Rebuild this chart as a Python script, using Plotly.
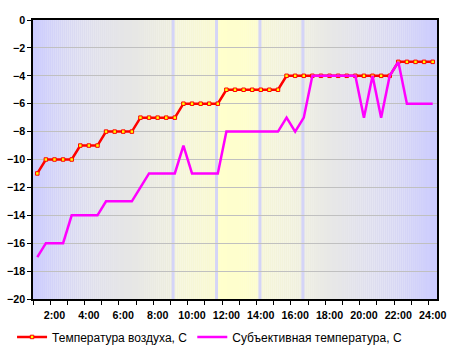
import plotly.graph_objects as go

# ---- data ----
times = ["1:00", "1:30", "2:00", "2:30", "3:00", "3:30", "4:00", "4:30",
         "5:00", "5:30", "6:00", "6:30", "7:00", "7:30", "8:00", "8:30",
         "9:00", "9:30", "10:00", "10:30", "11:00", "11:30", "12:00", "12:30",
         "13:00", "13:30", "14:00", "14:30", "15:00", "15:30", "16:00", "16:30",
         "17:00", "17:30", "18:00", "18:30", "19:00", "19:30", "20:00", "20:30",
         "21:00", "21:30", "22:00", "22:30", "23:00", "23:30", "24:00"]

air_temp = [-11, -10, -10, -10, -10, -9, -9, -9,
            -8, -8, -8, -8, -7, -7, -7, -7,
            -7, -6, -6, -6, -6, -6, -5, -5,
            -5, -5, -5, -5, -5, -4, -4, -4,
            -4, -4, -4, -4, -4, -4, -4, -4,
            -4, -4, -3, -3, -3, -3, -3]

felt_temp = [-17, -16, -16, -16, -14, -14, -14, -14,
             -13, -13, -13, -13, -12, -11, -11, -11,
             -11, -9, -11, -11, -11, -11, -8, -8,
             -8, -8, -8, -8, -8, -7, -8, -7,
             -4, -4, -4, -4, -4, -4, -7, -4,
             -7, -4, -3, -6, -6, -6, -6]

y_ticks = [0, -2, -4, -6, -8, -10, -12, -14, -16, -18, -20]

name_air = "Температура воздуха, С"
name_felt = "Субъективная температура, С"

# decorative background (positions in category-index units)
sun_rays_idx = [15.8, 20.85, 25.9, 30.9]
bg_stops = [
    (0.0, (204, 204, 255)),
    (0.08, (216, 216, 244)),
    (0.17, (226, 226, 234)),
    (0.30, (234, 234, 226)),
    (0.346, (238, 238, 222)),
    (0.35, (244, 244, 218)),
    (0.45, (249, 249, 210)),
    (0.455, (255, 255, 204)),
    (0.555, (253, 253, 206)),
    (0.56, (246, 246, 216)),
    (0.66, (240, 240, 222)),
    (0.665, (238, 238, 226)),
    (0.76, (230, 230, 232)),
    (0.88, (218, 218, 242)),
    (1.0, (204, 204, 255)),
]

x = list(range(len(times)))
x_lo, x_hi = -0.5, len(times) - 0.5

label_idx = [i for i, t in enumerate(times)
             if t.endswith(":00") and int(t.split(":")[0]) % 2 == 0]
label_txt = [times[i] for i in label_idx]


def bg_color(f):
    for (f0, c0), (f1, c1) in zip(bg_stops[:-1], bg_stops[1:]):
        if f0 <= f <= f1:
            t = 0 if f1 == f0 else (f - f0) / (f1 - f0)
            c = [round(a + (b - a) * t) for a, b in zip(c0, c1)]
            return "rgb(%d,%d,%d)" % tuple(c)
    return "rgb(%d,%d,%d)" % bg_stops[-1][1]


shapes = []
N = 200
w = (x_hi - x_lo) / N
for k in range(N):
    f = (k + 0.5) / N
    shapes.append(dict(type="rect", xref="x", yref="paper",
                       x0=x_lo + k * w, x1=x_lo + (k + 1) * w + w * 0.05,
                       y0=0, y1=1, fillcolor=bg_color(f),
                       line=dict(width=0), layer="below"))
for xr in sun_rays_idx:
    shapes.append(dict(type="line", xref="x", yref="paper", x0=xr, x1=xr,
                       y0=0, y1=1, line=dict(color="rgba(208,208,250,0.9)", width=3),
                       layer="below"))

fig = go.Figure()
fig.add_trace(go.Scatter(
    x=x, y=air_temp, name=name_air, mode="lines+markers",
    line=dict(color="#ff0000", width=2.5),
    marker=dict(symbol="square", size=3.5, color="#ffff00",
                line=dict(color="#ff0000", width=1)),
))
fig.add_trace(go.Scatter(
    x=x, y=felt_temp, name=name_felt, mode="lines",
    line=dict(color="#ff00ff", width=2.5),
))

font_family = "Liberation Sans, Arial, sans-serif"

fig.update_layout(
    width=449, height=354,
    margin=dict(l=33, r=12, t=20, b=55, autoexpand=False),
    paper_bgcolor="white", plot_bgcolor="white",
    shapes=shapes,
    font=dict(family=font_family, color="black"),
    showlegend=True,
    legend=dict(orientation="h", x=0.437, xanchor="center", y=-0.136,
                yanchor="middle", font=dict(size=12, family=font_family),
                bgcolor="rgba(0,0,0,0)", itemwidth=30),
    xaxis=dict(
        range=[x_lo, x_hi], showgrid=False, zeroline=False, automargin=False,
        tickmode="array", tickvals=label_idx, ticktext=label_txt,
        ticks="outside", ticklen=5, tickcolor="rgba(0,0,0,0)",
        tickfont=dict(size=10.7, family=font_family, weight="bold"),
        minor=dict(tickmode="linear", tick0=-0.5, dtick=2, ticks="outside",
                   ticklen=4, tickcolor="black", showgrid=False),
        showline=True, linecolor="black", linewidth=1.5, mirror=True,
    ),
    yaxis=dict(
        range=[-20, 0], tickmode="array", tickvals=y_ticks, automargin=False,
        showgrid=True, gridcolor="#c0c0c0", gridwidth=1, zeroline=False,
        ticks="outside", ticklen=4, tickcolor="black",
        tickfont=dict(size=10.7, family=font_family, weight="bold"),
        showline=True, linecolor="black", linewidth=1.5, mirror=True,
    ),
)

fig.write_html("out.html")
